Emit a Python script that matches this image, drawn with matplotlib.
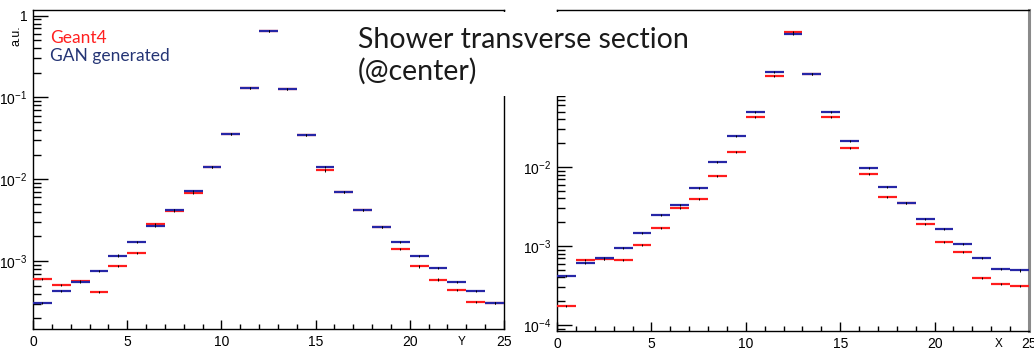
import numpy as np
import matplotlib
matplotlib.use('Agg')
import matplotlib.pyplot as plt
from matplotlib.patches import Rectangle
from matplotlib.ticker import FixedLocator, FixedFormatter, NullFormatter

# bin edges of the transverse profile (cell index)
edges = np.arange(0, 26)

# Y projection, normalised
y_geant4 = [6.0e-4, 5.1e-4, 5.75e-4, 4.2e-4, 8.75e-4, 1.27e-3, 2.84e-3, 4.15e-3,
            6.76e-3, 1.42e-2, 3.55e-2, 0.130, 0.645, 0.127, 3.45e-2, 1.28e-2,
            6.96e-3, 4.26e-3, 2.64e-3, 1.39e-3, 8.6e-4, 5.95e-4, 4.47e-4,
            3.16e-4, 3.07e-4]
y_gan = [3.05e-4, 4.33e-4, 5.5e-4, 7.48e-4, 1.17e-3, 1.73e-3, 2.67e-3, 4.2e-3,
         7.16e-3, 1.42e-2, 3.55e-2, 0.130, 0.645, 0.127, 3.45e-2, 1.41e-2,
         6.96e-3, 4.26e-3, 2.64e-3, 1.71e-3, 1.15e-3, 8.2e-4, 5.5e-4,
         4.27e-4, 3.1e-4]

# X projection, normalised
x_geant4 = [1.72e-4, 6.59e-4, 6.85e-4, 6.7e-4, 1.02e-3, 1.67e-3, 3.05e-3, 3.94e-3,
            7.76e-3, 1.55e-2, 4.26e-2, 0.141, 0.507, 0.149, 4.26e-2, 1.72e-2,
            8.2e-3, 4.21e-3, 3.5e-3, 1.91e-3, 1.11e-3, 8.4e-4, 3.89e-4,
            3.27e-4, 3.12e-4]
x_gan = [4.21e-4, 6.1e-4, 6.95e-4, 9.55e-4, 1.45e-3, 2.49e-3, 3.27e-3, 5.37e-3,
         1.15e-2, 2.47e-2, 4.92e-2, 0.158, 0.483, 0.149, 4.92e-2, 2.13e-2,
         9.63e-3, 5.53e-3, 3.53e-3, 2.2e-3, 1.63e-3, 1.05e-3, 7.05e-4,
         5.13e-4, 4.9e-4]

rel_err = 0.03

RED = '#ff1c1c'
BLUE = '#2626a6'

plt.rcParams['font.family'] = ['Liberation Sans', 'DejaVu Sans']
plt.rcParams['mathtext.fontset'] = 'custom'
plt.rcParams['mathtext.rm'] = 'Liberation Sans'
plt.rcParams['mathtext.it'] = 'Liberation Sans'


def draw_hist(ax, vals, color):
    vals = np.asarray(vals)
    ax.hlines(vals, edges[:-1], edges[1:], color=color, lw=1.6, zorder=3)
    centers = 0.5 * (edges[:-1] + edges[1:])
    ax.vlines(centers, vals * (1 - rel_err), vals * (1 + rel_err),
              color='black', lw=0.7, zorder=4)


def style_axes(ax, ylim, majors, labels, xname, xname_pos):
    ax.set_yscale('log')
    ax.set_xlim(0, 25)
    ax.set_ylim(*ylim)
    ax.yaxis.set_major_locator(FixedLocator(majors))
    ax.yaxis.set_major_formatter(FixedFormatter(labels))
    minors = [m * 10.0 ** e for e in range(-5, 1) for m in range(2, 10)]
    ax.yaxis.set_minor_locator(FixedLocator(minors))
    ax.yaxis.set_minor_formatter(NullFormatter())
    ax.xaxis.set_major_locator(FixedLocator([0, 5, 10, 15, 20, 25]))
    ax.xaxis.set_minor_locator(FixedLocator(range(26)))
    ax.tick_params(axis='y', which='major', direction='in', length=11,
                   width=1.0, labelsize=10, pad=4)
    ax.tick_params(axis='y', which='minor', direction='in', length=5.8, width=1.0)
    ax.tick_params(axis='x', which='major', direction='in', length=6.5,
                   width=1.0, labelsize=10, pad=4)
    ax.tick_params(axis='x', which='minor', direction='in', length=3.6, width=1.0)
    ax.tick_params(right=False, top=False)
    for sp in ax.spines.values():
        sp.set_linewidth(1.0)
    ax.text(xname_pos, -0.022, xname, transform=ax.transAxes, fontsize=8.5,
            ha='center', va='top')


fig = plt.figure(figsize=(10.34, 3.49), dpi=100)

# left: Y profile
ax1 = fig.add_axes([33 / 1034, 20 / 349, 471 / 1034, 319 / 349])
draw_hist(ax1, y_geant4, RED)
draw_hist(ax1, y_gan, BLUE)
style_axes(ax1, (1.48e-4, 1.17), [1e-3, 1e-2, 1e-1, 1],
           [r'$10^{-3}$', r'$10^{-2}$', r'$10^{-1}$', '1'], 'Y', 0.91)
ax1.text(-0.035, 0.92, 'a.u.', transform=ax1.transAxes, rotation=90,
         fontsize=9, ha='center', va='center')
ax1.text(0.036, 0.897, 'Geant4', transform=ax1.transAxes, color='#ff2020',
         fontsize=12.5, family='Lato')
ax1.text(0.036, 0.84, 'GAN generated', transform=ax1.transAxes, color='#253575',
         fontsize=12.5, family='Lato')

# right: X profile
ax2 = fig.add_axes([557 / 1034, 18 / 349, 472 / 1034, 321 / 349])
draw_hist(ax2, x_geant4, RED)
draw_hist(ax2, x_gan, BLUE)
style_axes(ax2, (8.4e-5, 0.97), [1e-4, 1e-3, 1e-2, 1e-1],
           [r'$10^{-4}$', r'$10^{-3}$', r'$10^{-2}$', r'$10^{-1}$'], 'X', 0.936)
ax2.spines['right'].set_color('#8a8a8a')
ax2.spines['right'].set_linewidth(2.2)

# title box laid over both pads
fig.add_artist(Rectangle((345 / 1034, 253 / 349), 360 / 1034, 84 / 349,
                         transform=fig.transFigure, facecolor='white',
                         edgecolor='none', zorder=5))
fig.text(358 / 1034, 301 / 349, 'Shower transverse section', fontsize=20.5,
         family='Lato', color='#1a1a1a', zorder=6, va='baseline')
fig.text(358 / 1034, 269 / 349, '(@center)', fontsize=20.5,
         family='Lato', color='#1a1a1a', zorder=6, va='baseline')

fig.savefig('out.png', dpi=100)
